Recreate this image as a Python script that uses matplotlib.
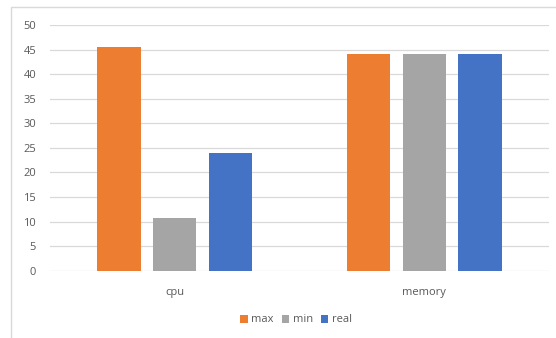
import numpy as np
import matplotlib
matplotlib.use("Agg")
import matplotlib.pyplot as plt
from matplotlib.patches import Rectangle

# values
categories = ["cpu", "memory"]
series = ["max", "min", "real"]
max_vals = [45.6, 44.1]
min_vals = [10.7, 44.1]
real_vals = [24.0, 44.1]
colors = ["#ED7D31", "#A5A5A5", "#4472C4"]
yticks = [0, 5, 10, 15, 20, 25, 30, 35, 40, 45, 50]

plt.rcParams['font.family'] = ['Open Sans', 'DejaVu Sans']
txt = "#595959"

fig = plt.figure(figsize=(5.56, 3.38), dpi=100)
ax = fig.add_axes([50/556, 1-270.7/338, 499/556, (270.7-25)/338])

# outer chart border
fig.patches.append(Rectangle((11/556, -0.05), 1.1, 1-7/338+0.05, transform=fig.transFigure,
                             fill=False, edgecolor="#D9D9D9", linewidth=1.0))

x = np.arange(len(categories))
w = 0.174
step = 0.223
for i, (name, vals) in enumerate(zip(series, [max_vals, min_vals, real_vals])):
    ax.bar(x + (i-1)*step, vals, width=w, color=colors[i], label=name, zorder=3)

ax.set_xlim(-0.5, 1.5)
ax.set_ylim(0, 50)
ax.set_yticks(yticks)
ax.set_xticks(x)
ax.set_xticklabels(categories)
ax.grid(axis="y", color="#D9D9D9", linewidth=0.9, zorder=0)
for s in ax.spines.values():
    s.set_visible(False)
ax.tick_params(axis="both", length=0, labelsize=8, colors=txt)
ax.tick_params(axis="y", pad=10)
ax.tick_params(axis="x", pad=12)

ax.legend(loc="center", bbox_to_anchor=(296/556, 1-320/338), bbox_transform=fig.transFigure,
          ncol=3, frameon=False, fontsize=8, handlelength=0.7, handleheight=0.7,
          handletextpad=0.3, columnspacing=0.7, labelcolor=txt)

fig.savefig("out.png", dpi=100)
